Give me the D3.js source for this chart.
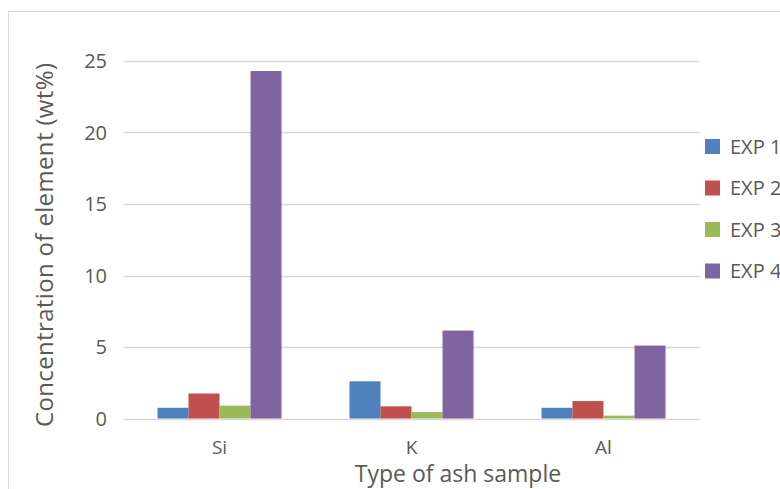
<html>
<head>
	<title>Concentration of element</title>
	<script src="https://d3js.org/d3.v7.min.js"></script>
	<style type="text/css">
		body {
			margin: 0;
			padding: 0;
			background: #fff;
			overflow: hidden;
		}
		#chart {
			margin: 0;
			padding: 0;
		}
		text {
			font-family: "Open Sans", sans-serif;
			fill: #595959;
		}
	</style>
</head>
<body>

<div id="chart"></div>

<script>

var categories = ["Si", "K", "Al"];
var seriesNames = ["EXP 1", "EXP 2", "EXP 3", "EXP 4"];
var exp1 = [0.75, 2.6, 0.75];
var exp2 = [1.75, 0.85, 1.22];
var exp3 = [0.9, 0.45, 0.2];
var exp4 = [24.3, 6.15, 5.1];
var yTicks = [0, 5, 10, 15, 20, 25];
var colors = ["#4F81BD", "#C0504D", "#9BBB59", "#8064A2"];

function drawChart() {
var ww = 780,
	wh = 489;

var svg = d3.select("#chart").append("svg")
	.attr("width", ww)
	.attr("height", wh);

// chart frame, runs off the right and bottom edges
svg.append("rect")
	.attr("x", 8.5)
	.attr("y", 11.5)
	.attr("width", 800)
	.attr("height", 500)
	.attr("fill", "#fff")
	.attr("stroke", "#d9d9d9");

var plotLeft = 123.5, plotRight = 699.5, plotTop = 61, plotBottom = 418.5;

var x = d3.scaleBand()
	.domain(categories)
	.range([plotLeft, plotRight])
	.paddingInner(0.354)
	.paddingOuter(0.177);

var x1 = d3.scaleBand()
	.domain(seriesNames)
	.range([0, x.bandwidth()]);

var y = d3.scaleLinear()
	.domain([0, 25])
	.range([plotBottom, plotTop]);

// gridlines
svg.append("g")
	.selectAll("line")
	.data(yTicks)
	.enter().append("line")
	.attr("x1", plotLeft)
	.attr("x2", plotRight)
	.attr("y1", function(d) { return Math.round(y(d)) + 0.5; })
	.attr("y2", function(d) { return Math.round(y(d)) + 0.5; })
	.attr("stroke", "#d9d9d9")
	.attr("stroke-width", 1.3);

// y tick labels
svg.append("g")
	.selectAll("text")
	.data(yTicks)
	.enter().append("text")
	.attr("x", 107)
	.attr("y", function(d) { return y(d); })
	.attr("dy", "0.36em")
	.attr("text-anchor", "end")
	.style("font-size", "20px")
	.text(function(d) { return d; });

var table = categories.map(function(c, i) {
	return { cat: c, vals: [exp1[i], exp2[i], exp3[i], exp4[i]] };
});

var groups = svg.append("g")
	.selectAll("g")
	.data(table)
	.enter().append("g")
	.attr("transform", function(d) { return "translate(" + x(d.cat) + ",0)"; });

groups.selectAll("rect")
	.data(function(d) { return d.vals.map(function(v, j) { return { name: seriesNames[j], v: v, j: j }; }); })
	.enter().append("rect")
	.attr("x", function(d) { return x1(d.name); })
	.attr("width", x1.bandwidth())
	.attr("y", function(d) { return y(d.v); })
	.attr("height", function(d) { return plotBottom - y(d.v); })
	.attr("fill", function(d) { return colors[d.j]; });

// category labels
svg.append("g")
	.selectAll("text")
	.data(categories)
	.enter().append("text")
	.attr("x", function(d) { return x(d) + x.bandwidth() / 2; })
	.attr("y", 454)
	.attr("text-anchor", "middle")
	.style("font-size", "19px")
	.text(function(d) { return d; });

// axis titles
svg.append("text")
	.attr("x", 458)
	.attr("y", 482)
	.attr("text-anchor", "middle")
	.style("font-size", "23px")
	.text("Type of ash sample");

svg.append("text")
	.attr("transform", "translate(53,245) rotate(-90)")
	.attr("text-anchor", "middle")
	.attr("textLength", 364)
	.attr("lengthAdjust", "spacing")
	.style("font-size", "24px")
	.text("Concentration of element (wt%)");

// legend
var legend = svg.append("g")
	.selectAll("g")
	.data(seriesNames)
	.enter().append("g")
	.attr("transform", function(d, i) { return "translate(705," + (139 + i * 41.5) + ")"; });

legend.append("rect")
	.attr("width", 15)
	.attr("height", 15)
	.attr("fill", function(d, i) { return colors[i]; });

legend.append("text")
	.attr("x", 25)
	.attr("y", 7.5)
	.attr("dy", "0.36em")
	.style("font-size", "20px")
	.text(function(d) { return d; });
}

drawChart();

</script>
</body>
</html>
